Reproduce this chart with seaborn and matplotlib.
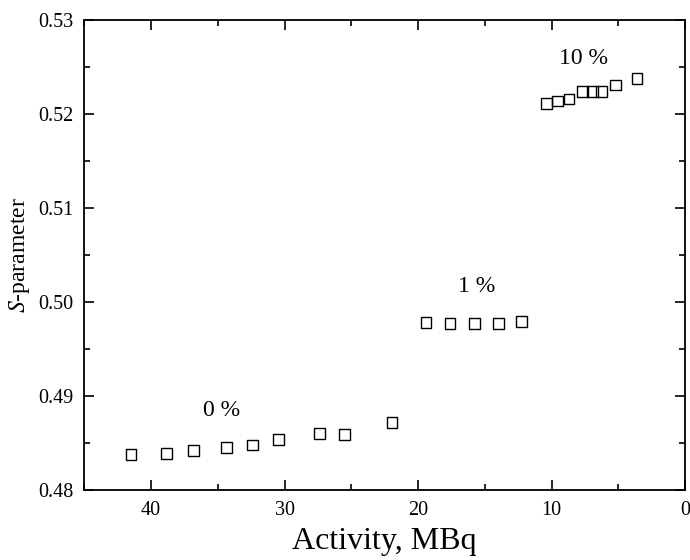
import numpy as np
import pandas as pd
import seaborn as sns
import matplotlib.pyplot as plt
from matplotlib.ticker import MultipleLocator

# activity (MBq) and S-parameter for each concentration
act_0 = [41.5, 38.85, 36.8, 34.35, 32.4, 30.45, 27.4, 25.5, 21.95]
s_0 = [0.4838, 0.4839, 0.4842, 0.4845, 0.4848, 0.4854, 0.4860, 0.4859, 0.4872]

act_1 = [19.4, 17.6, 15.8, 14.0, 12.25]
s_1 = [0.4978, 0.4977, 0.4977, 0.4977, 0.4979]

act_10 = [10.4, 9.55, 8.7, 7.7, 6.95, 6.25, 5.2, 3.6]
s_10 = [0.5211, 0.5214, 0.5216, 0.5224, 0.5224, 0.5224, 0.5231, 0.5238]

labels = ['0 %', '1 %', '10 %']
label_pos = [(34.7, 0.4885), (15.6, 0.5017), (7.6, 0.5259)]

df = pd.DataFrame({
    'Activity': act_0 + act_1 + act_10,
    'S': s_0 + s_1 + s_10,
})

sns.set_style('ticks')
plt.rcParams['font.family'] = ['Liberation Serif', 'DejaVu Serif']
plt.rcParams['mathtext.fontset'] = 'stix'
plt.rcParams['text.color'] = 'black'
plt.rcParams['axes.labelcolor'] = 'black'
plt.rcParams['xtick.color'] = 'black'
plt.rcParams['ytick.color'] = 'black'
plt.rcParams['axes.edgecolor'] = 'black'

fig = plt.figure(figsize=(6.9, 5.6), dpi=100)
ax = fig.add_axes([0.122, 0.125, 0.871, 0.839])

sns.scatterplot(data=df, x='Activity', y='S', marker='s', s=60,
                facecolor='none', edgecolor='black', linewidth=1.0, ax=ax)

for txt, (x, y) in zip(labels, label_pos):
    ax.text(x, y, txt, ha='center', va='center', fontsize=17)

ax.set_xlim(45, 0)
ax.set_ylim(0.48, 0.53)
ax.xaxis.set_major_locator(MultipleLocator(10))
ax.xaxis.set_minor_locator(MultipleLocator(5))
ax.yaxis.set_major_locator(MultipleLocator(0.01))
ax.yaxis.set_minor_locator(MultipleLocator(0.005))
ax.yaxis.set_major_formatter(plt.FormatStrFormatter('%.2f'))

ax.tick_params(which='both', direction='in', top=True, right=True,
               labelsize=14.5, width=1.2, pad=8)
ax.tick_params(which='major', length=7)
ax.tick_params(which='minor', length=4)
for sp in ax.spines.values():
    sp.set_linewidth(1.3)
    sp.set_visible(True)

ax.set_xlabel('Activity, MBq', fontsize=23, labelpad=5)
ax.set_ylabel(r'$S$-parameter', fontsize=17, labelpad=4)

fig.savefig('out.png', dpi=100)
